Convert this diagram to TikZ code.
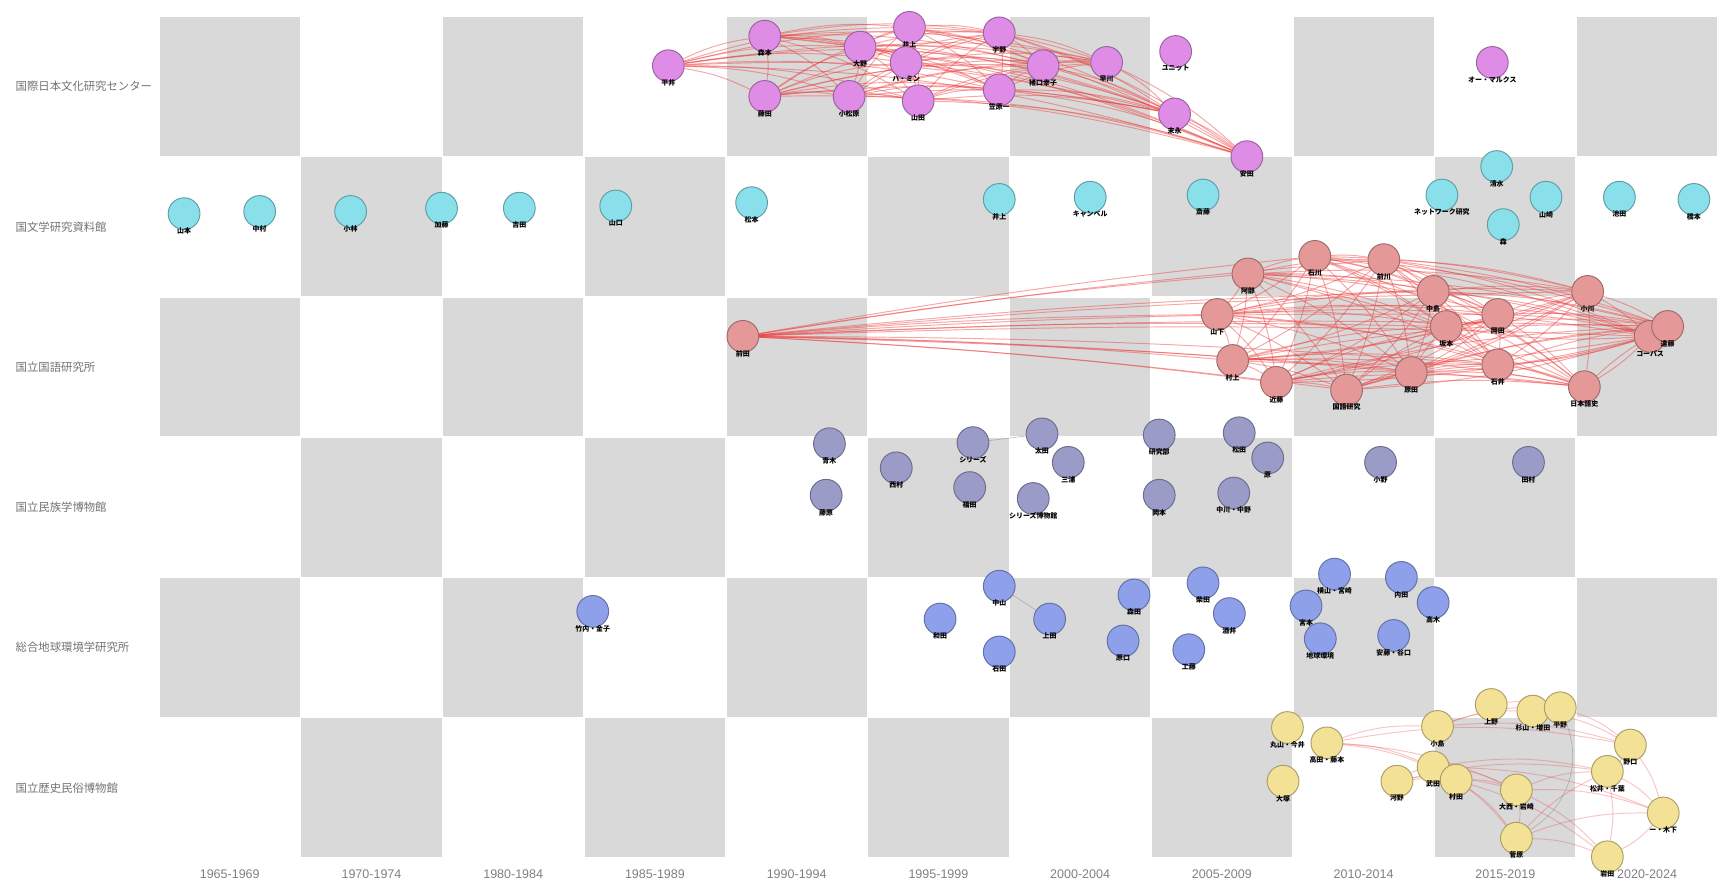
\documentclass[tikz,border=0pt]{standalone}
\usepackage{fontspec}
\setmainfont{Liberation Sans}
\newfontfamily\jpfont{Noto Sans CJK JP}
\usetikzlibrary{calc}

\definecolor{cellgray}{RGB}{217,217,217}
\definecolor{linkred}{RGB}{236,60,60}
\definecolor{nichi}{RGB}{222,140,230}
\definecolor{kokub}{RGB}{138,224,234}
\definecolor{kokug}{RGB}{228,152,152}
\definecolor{minpa}{RGB}{155,155,200}
\definecolor{chiky}{RGB}{142,160,234}
\definecolor{rekih}{RGB}{243,226,150}

\pgfdeclarelayer{grid}
\pgfdeclarelayer{links}
\pgfsetlayers{grid,links,main}

\begin{document}
\begin{tikzpicture}[
  x=0.02cm, y=-0.02cm,
  cell/.style={fill=cellgray, draw=white, line width=0.8pt},
  inst/.style={font=\jpfont\fontsize{5.9}{7}\selectfont, text=black!55, anchor=west, inner sep=0pt},
  yr/.style={font=\fontsize{6.5}{7}\selectfont, text=black!50},
  pt/.style={circle, minimum size=0.58cm, inner sep=0pt, line width=0.5pt,
    fill=#1, draw=#1!70!black},
  nm/.style={font=\jpfont\fontsize{3.6}{4}\selectfont\bfseries, inner sep=0.5pt, yshift=2pt},
  tie/.style={draw=linkred, line width=0.5pt, opacity=0.45},
  faint/.style={draw=black!45, line width=0.3pt, opacity=0.6}
]
  \useasboundingbox (0,0) rectangle (1568,809);

  % checkerboard
  \begin{pgfonlayer}{grid}
  \foreach \r in {0,...,5}
    \foreach \c in {0,...,10}{
      \pgfmathtruncatemacro\odd{mod(\r+\c,2)}
      \ifnum\odd=0
        \fill[cell] (145+\c*129.36,15+\r*128) rectangle ++(129.36,128);
      \fi
    }
  \end{pgfonlayer}

  % institutes and periods
  \foreach \r/\t in {1/国際日本文化研究センター, 2/国文学研究資料館, 3/国立国語研究所,
      4/国立民族学博物館, 5/総合地球環境学研究所, 6/国立歴史民俗博物館}
    \node[inst] (row\r) at (14,{15+(\r-0.5)*128}) {\t};
  \foreach \c/\t in {0/1965-1969, 1/1970-1974, 2/1980-1984, 3/1985-1989,
      4/1990-1994, 5/1995-1999, 6/2000-2004, 7/2005-2009, 8/2010-2014,
      9/2015-2019, 10/2020-2024}
    \node[yr] (yr\c) at (145+\c*129.36+64.68,798) {\t};

  % row 1
  \foreach \i/\x/\y/\t in {1/610/60/平井, 2/698/33/森本, 3/698/88/藤田,
      4/785/43/大野, 5/775/88/小松原, 6/830/25/井上, 7/827/57/ハ・ミン,
      8/838/92/山田, 9/912/30/宇野, 10/912/82/笠原一, 11/952/60/猪口幸子,
      12/1010/57/早川, 13/1072/104/末永, 14/1138/143/安田,
      15/1073/47/ユニット, 16/1362/57/オー・マルクス}
    \node[pt=nichi, label={[nm]below:\t}] (n\i) at (\x,\y) {};

  % row 2
  \foreach \i/\x/\y/\t in {1/168/195/山本, 2/237/193/中村, 3/320/193/小林,
      4/403/190/加藤, 5/474/190/吉田, 6/562/188/山口, 7/686/185/松本,
      8/912/182/井上, 9/995/180/キャンベル, 10/1098/178/斎藤,
      11/1316/178/ネットワーク研究, 12/1366/152/清水, 13/1411/180/山崎,
      14/1372/205/森, 15/1478/180/池田, 16/1546/182/橋本}
    \node[pt=kokub, label={[nm]below:\t}] (k\i) at (\x,\y) {};

  % row 3
  \foreach \i/\x/\y/\t in {0/678/307/前田, 1/1139/250/阿部, 2/1200/234/石川,
      3/1263/237/前川, 4/1111/287/山下, 5/1308/266/中島, 6/1367/287/岡田,
      7/1449/266/小川, 8/1506/307/コーパス, 9/1125/329/村上, 10/1165/349/近藤,
      11/1229/356/国語研究, 12/1288/340/原田, 13/1367/333/石井,
      14/1446/353/日本語史, 15/1320/298/坂本, 16/1522/298/遠藤}
    \node[pt=kokug, label={[nm]below:\t}] (g\i) at (\x,\y) {};

  % row 4
  \foreach \i/\x/\y/\t in {1/757/405/青木, 2/754/452/藤原, 3/818/427/西村,
      4/888/404/シリーズ, 5/885/445/福田, 6/943/455/シリーズ博物館,
      7/951/396/太田, 8/975/422/三浦, 9/1058/397/研究部, 10/1058/452/岡本,
      11/1131/395/松田, 12/1126/450/中川・中野, 13/1157/418/原, 14/1260/422/小野,
      15/1395/422/田村}
    \node[pt=minpa, label={[nm]below:\t}] (m\i) at (\x,\y) {};

  % row 5
  \foreach \i/\x/\y/\t in {1/541/558/竹内・金子, 2/858/565/和田, 3/912/535/中山,
      4/912/595/石田, 5/958/565/上田, 6/1035/543/森田, 7/1025/585/原口,
      8/1098/532/柴田, 9/1122/560/酒井, 10/1085/593/工藤, 11/1218/524/横山・宮崎,
      12/1192/553/宮本, 13/1205/583/地球環境, 14/1279/527/内田, 15/1308/550/高木,
      16/1272/580/安藤・谷口}
    \node[pt=chiky, label={[nm]below:\t}] (e\i) at (\x,\y) {};

  % row 6
  \foreach \i/\x/\y/\t in {1/1175/664/丸山・今井, 2/1211/678/高田・藤本,
      3/1171/713/大塚, 4/1275/713/河野, 5/1312/663/小島, 6/1308/700/武田,
      7/1329/712/村田, 8/1361/643/上野, 9/1399/649/杉山・増田,
      10/1424/646/平野, 11/1384/721/大西・岩崎, 12/1384/765/菅原,
      13/1488/680/野口, 14/1467/704/松井・千葉, 15/1518/742/ー・木下,
      16/1467/782/岩田}
    \node[pt=rekih, label={[nm]below:\t}] (r\i) at (\x,\y) {};

  \begin{pgfonlayer}{links}
  % co-author ties
  \foreach \i in {1,...,13}{
    \pgfmathtruncatemacro\s{\i+1}
    \foreach \j in {\s,...,14}
      \draw[tie] (n\i) to[bend left=8] (n\j);
  }
  \foreach \i in {1,...,15}{
    \pgfmathtruncatemacro\s{\i+1}
    \foreach \j in {\s,...,16}
      \draw[tie] (g\i) to[bend left=6] (g\j);
  }
  \foreach \j in {1,...,16}
    \draw[tie] (g0) to[bend left=2] (g\j);
  \foreach \a/\b in {2/5, 2/6, 2/7, 2/11, 2/13, 4/6, 4/7, 4/11, 4/14, 5/9,
      5/10, 5/13, 6/7, 6/11, 6/12, 6/14, 6/15, 7/11, 7/12, 7/16, 8/10, 9/10,
      9/13, 10/13, 11/12, 11/14, 11/15, 11/16, 12/14, 12/15, 12/16, 13/14,
      13/15, 14/15, 14/16, 15/16}
    \draw[tie, opacity=0.3] (r\a) to[bend left=10] (r\b);
  \draw[faint] (r10) to[bend left=40] (r12);
  \draw[faint] (m4) -- (m7);
  \draw[faint] (e3) -- (e5);
  \end{pgfonlayer}
\end{tikzpicture}
\end{document}
